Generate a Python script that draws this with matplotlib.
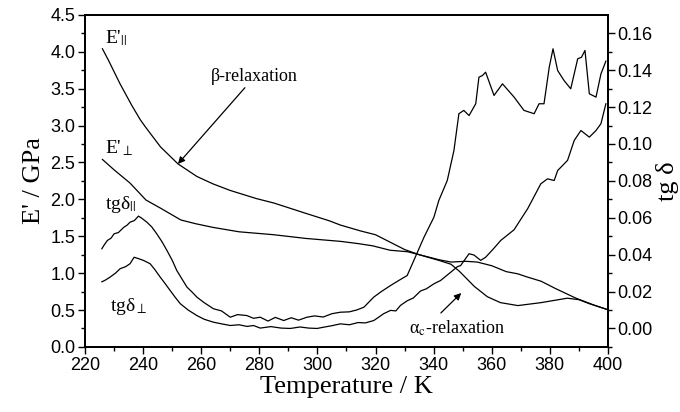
import numpy as np
import matplotlib
matplotlib.use("Agg")
import matplotlib.pyplot as plt

plt.rcParams['font.family'] = ['Liberation Sans', 'DejaVu Sans']
plt.rcParams['mathtext.fontset'] = 'stix'

# E' parallel (GPa)
T_epar = [226, 228, 232, 236, 239, 241, 246, 252, 258.5, 264, 270, 279, 285, 296,
          304, 308, 315, 320, 325, 330, 335, 342, 346, 349, 354, 358.5, 363, 369,
          377, 386, 390, 394, 399.5]
E_par = [4.04, 3.89, 3.57, 3.28, 3.08, 2.97, 2.71, 2.48, 2.31, 2.21, 2.12, 2.01, 1.95, 1.81,
         1.71, 1.65, 1.57, 1.52, 1.42, 1.32, 1.25, 1.17, 1.12, 1.02, 0.82, 0.68, 0.60, 0.56,
         0.60, 0.66, 0.64, 0.58, 0.51]

# E' perpendicular (GPa)
T_eperp = [226, 230, 235.5, 241, 246, 253, 258, 264, 273, 285, 296, 308, 314, 319,
           325, 331, 336, 342, 346, 351, 355, 360, 365, 369, 372, 377, 382, 389, 395, 399.5]
E_perp = [2.54, 2.40, 2.22, 1.99, 1.88, 1.72, 1.67, 1.62, 1.56, 1.52, 1.47, 1.43, 1.40, 1.37,
          1.31, 1.29, 1.24, 1.18, 1.15, 1.16, 1.15, 1.10, 1.02, 0.99, 0.95, 0.89, 0.79, 0.66, 0.57, 0.51]

# tg delta parallel
T_tpar = [225.8, 226.5, 227.7, 229, 230, 231.5, 233.4, 234.5, 235.5, 237, 238.4, 239.5, 241.3,
          243, 244.7, 246.5, 248.2, 250, 251.6, 253.5, 255.1, 257, 258.5, 261, 264.2, 267, 270,
          272.5, 275.7, 278, 280.3, 283, 285.5, 288.4, 291, 293.5, 296.4, 299, 302, 305, 307.9,
          311, 313.5, 316, 319.4, 322, 325.2, 328, 330.9, 333.2, 336.7, 340.1, 341.8, 344.7,
          347.0, 348.7, 350.4, 352.2, 354.5, 355.6, 356.8, 357.9, 360.8, 363.7, 367.7, 371.1,
          374.6, 376.3, 378.0, 379.8, 381.1, 382.7, 384.9, 387.2, 389.6, 390.9, 392.1, 393.6,
          395.9, 397.6, 399.3]
tg_par = [0.0432, 0.0450, 0.0477, 0.0490, 0.0513, 0.0520, 0.0549, 0.0560, 0.0576, 0.0585, 0.0609,
          0.0598, 0.0576, 0.0550, 0.0513, 0.0470, 0.0423, 0.0370, 0.0314, 0.0265, 0.0224, 0.0195,
          0.0170, 0.0140, 0.0107, 0.0095, 0.0061, 0.0075, 0.0070, 0.0055, 0.0061, 0.0040, 0.0060,
          0.0043, 0.0058, 0.0045, 0.0061, 0.0068, 0.0062, 0.0080, 0.0088, 0.0090, 0.0100, 0.0115,
          0.0170, 0.0200, 0.0233, 0.0260, 0.0287, 0.0369, 0.0495, 0.0603, 0.0694, 0.0802, 0.0965,
          0.1164, 0.1182, 0.1154, 0.1218, 0.1362, 0.1371, 0.1389, 0.1263, 0.1326, 0.1254, 0.1182,
          0.1164, 0.1218, 0.1218, 0.1416, 0.1516, 0.1398, 0.1344, 0.1299, 0.1462, 0.1470, 0.1507,
          0.1272, 0.1254, 0.1380, 0.1449]

# tg delta perpendicular
T_tperp = [225.8, 227, 228.6, 230.5, 232.1, 234, 235.5, 236.9, 238.5, 240.1, 242.4, 244, 245.9,
           247.5, 249.3, 251, 252.8, 255.5, 258.5, 261, 264.2, 267, 270, 273, 275.8, 278, 280.3,
           284, 287.5, 290.7, 294, 297, 299.9, 302.2, 305, 307.9, 311, 314, 316.5, 319.4, 321,
           322.8, 325.2, 327, 328.6, 330.9, 333, 335.5, 337.5, 340.1, 342.4, 345.9, 348.2, 349.3,
           352.2, 353.9, 356.2, 357.9, 360.5, 363.1, 367.7, 372.4, 376.9, 379.2, 381.5, 382.7,
           386.1, 388.4, 390.7, 393.6, 395.9, 397.6, 399.3]
tg_perp = [0.0253, 0.0262, 0.0278, 0.0300, 0.0324, 0.0335, 0.0351, 0.0386, 0.0378, 0.0369, 0.0351,
           0.0320, 0.0278, 0.0245, 0.0206, 0.0170, 0.0134, 0.0100, 0.0070, 0.0050, 0.0034, 0.0025,
           0.0016, 0.0020, 0.0011, 0.0016, 0.0002, 0.0010, 0.0002, 0.0000, 0.0008, 0.0002, 0.0000,
           0.0007, 0.0015, 0.0025, 0.0020, 0.0032, 0.0030, 0.0043, 0.0060, 0.0080, 0.0098, 0.0095,
           0.0125, 0.0150, 0.0165, 0.0203, 0.0215, 0.0242, 0.0260, 0.0305, 0.0335, 0.0341, 0.0405,
           0.0398, 0.0369, 0.0386, 0.0430, 0.0477, 0.0535, 0.0650, 0.0784, 0.0811, 0.0802, 0.0856,
           0.0911, 0.1019, 0.1073, 0.1037, 0.1073, 0.1110, 0.1218]

serif = ['Liberation Serif', 'DejaVu Serif']
lw = 0.9

fig = plt.figure(figsize=(6.8, 4.12), dpi=100)
ax = fig.add_axes([0.125, 0.158, 0.769, 0.806])
ax2 = ax.twinx()

ax.plot(T_epar, E_par, color='black', lw=lw)
ax.plot(T_eperp, E_perp, color='black', lw=lw)
ax2.plot(T_tpar, tg_par, color='black', lw=lw)
ax2.plot(T_tperp, tg_perp, color='black', lw=lw)

ax.set_xlim(220, 400)
ax.set_ylim(0, 4.5)
ax2.set_ylim(-0.01, 0.17)

ax.set_xticks(np.arange(220, 401, 20))
ax.set_xticks(np.arange(230, 400, 20), minor=True)
ax.set_yticks(np.arange(0, 4.51, 0.5))
ax.set_yticks(np.arange(0.25, 4.5, 0.5), minor=True)
ax.set_yticklabels([f'{v:.1f}' for v in np.arange(0, 4.51, 0.5)])
ax2.set_yticks(np.arange(0, 0.161, 0.02))
ax2.set_yticks(np.arange(-0.01, 0.17, 0.02), minor=True)
ax2.set_yticklabels([f'{v:.2f}' for v in np.arange(0, 0.161, 0.02)])

for a in (ax, ax2):
    a.tick_params(which='major', direction='out', length=5, width=1, labelsize=13, pad=2)
    a.tick_params(which='minor', direction='out', length=3, width=1)
    for s in a.spines.values():
        s.set_linewidth(1.3)

ax.set_xlabel('Temperature / K', family=serif, fontsize=19, labelpad=2)
ax.set_ylabel("E' / GPa", family=serif, fontsize=19, labelpad=4)
ax2.set_ylabel('tg δ', family=serif, fontsize=19, labelpad=2)

ax.text(227, 4.12, "E'$_{||}$", family=serif, fontsize=14)
ax.text(227, 2.62, "E'$_{\\perp}$", family=serif, fontsize=14)
ax.text(227, 1.87, "tgδ$_{||}$", family=serif, fontsize=14)
ax.text(228.5, 0.48, "tgδ$_{\\perp}$", family=serif, fontsize=14)

ax.annotate('β-relaxation', xy=(252, 2.48), xytext=(263.5, 3.55),
            family=serif, fontsize=13, ha='left', va='bottom',
            arrowprops=dict(arrowstyle='-|>', color='black', lw=0.9,
                            shrinkA=0, shrinkB=0, mutation_scale=10))
ax.annotate('', xy=(349.5, 0.73), xytext=(342.5, 0.46),
            arrowprops=dict(arrowstyle='-|>', color='black', lw=0.9,
                            shrinkA=0, shrinkB=0, mutation_scale=10))
ax.text(331.5, 0.18, "α$_{\\mathrm{c}}$-relaxation", family=serif, fontsize=13)

fig.savefig('out.png', dpi=100)
